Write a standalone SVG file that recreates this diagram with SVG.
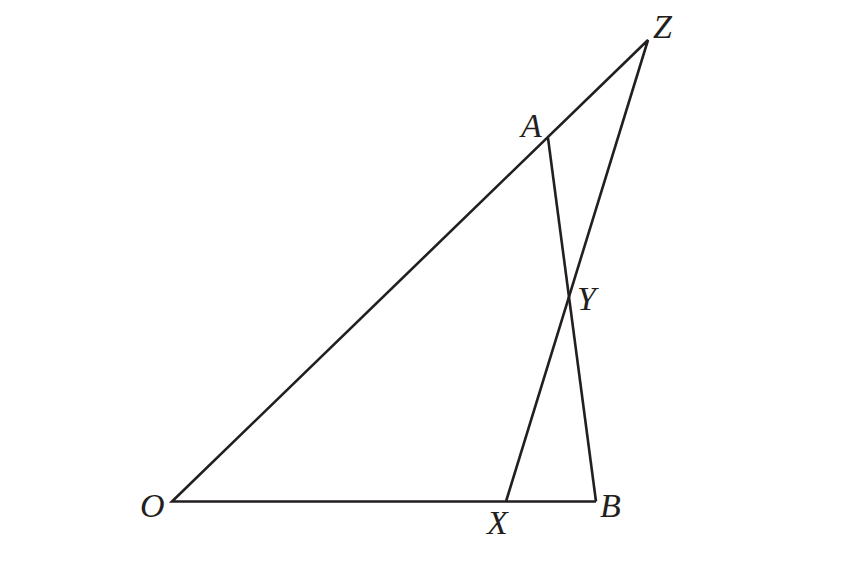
<svg xmlns="http://www.w3.org/2000/svg" width="865" height="572" viewBox="0 0 865 572">
<style>
.l{stroke:#231f20;stroke-width:2.6;fill:none;stroke-linejoin:miter}
.t{font-family:"Liberation Serif","Times New Roman",serif;font-style:italic;font-size:34px;fill:#231f20}
</style>
<rect width="865" height="572" fill="#fff"/>
<g id="connectors">
<polyline class="l" points="596,501.5 172,501.5 648,40 506,501.5"/>
<line class="l" x1="548" y1="138" x2="596" y2="501.5"/>
</g>
<g id="O"><text class="t" x="140" y="517">O</text></g>
<g id="B"><text class="t" x="600" y="517">B</text></g>
<g id="X"><text class="t" x="487" y="534">X</text></g>
<g id="Y"><text class="t" x="577" y="310">Y</text></g>
<g id="A"><text class="t" x="521" y="137">A</text></g>
<g id="Z"><text class="t" x="653" y="38">Z</text></g>
</svg>
